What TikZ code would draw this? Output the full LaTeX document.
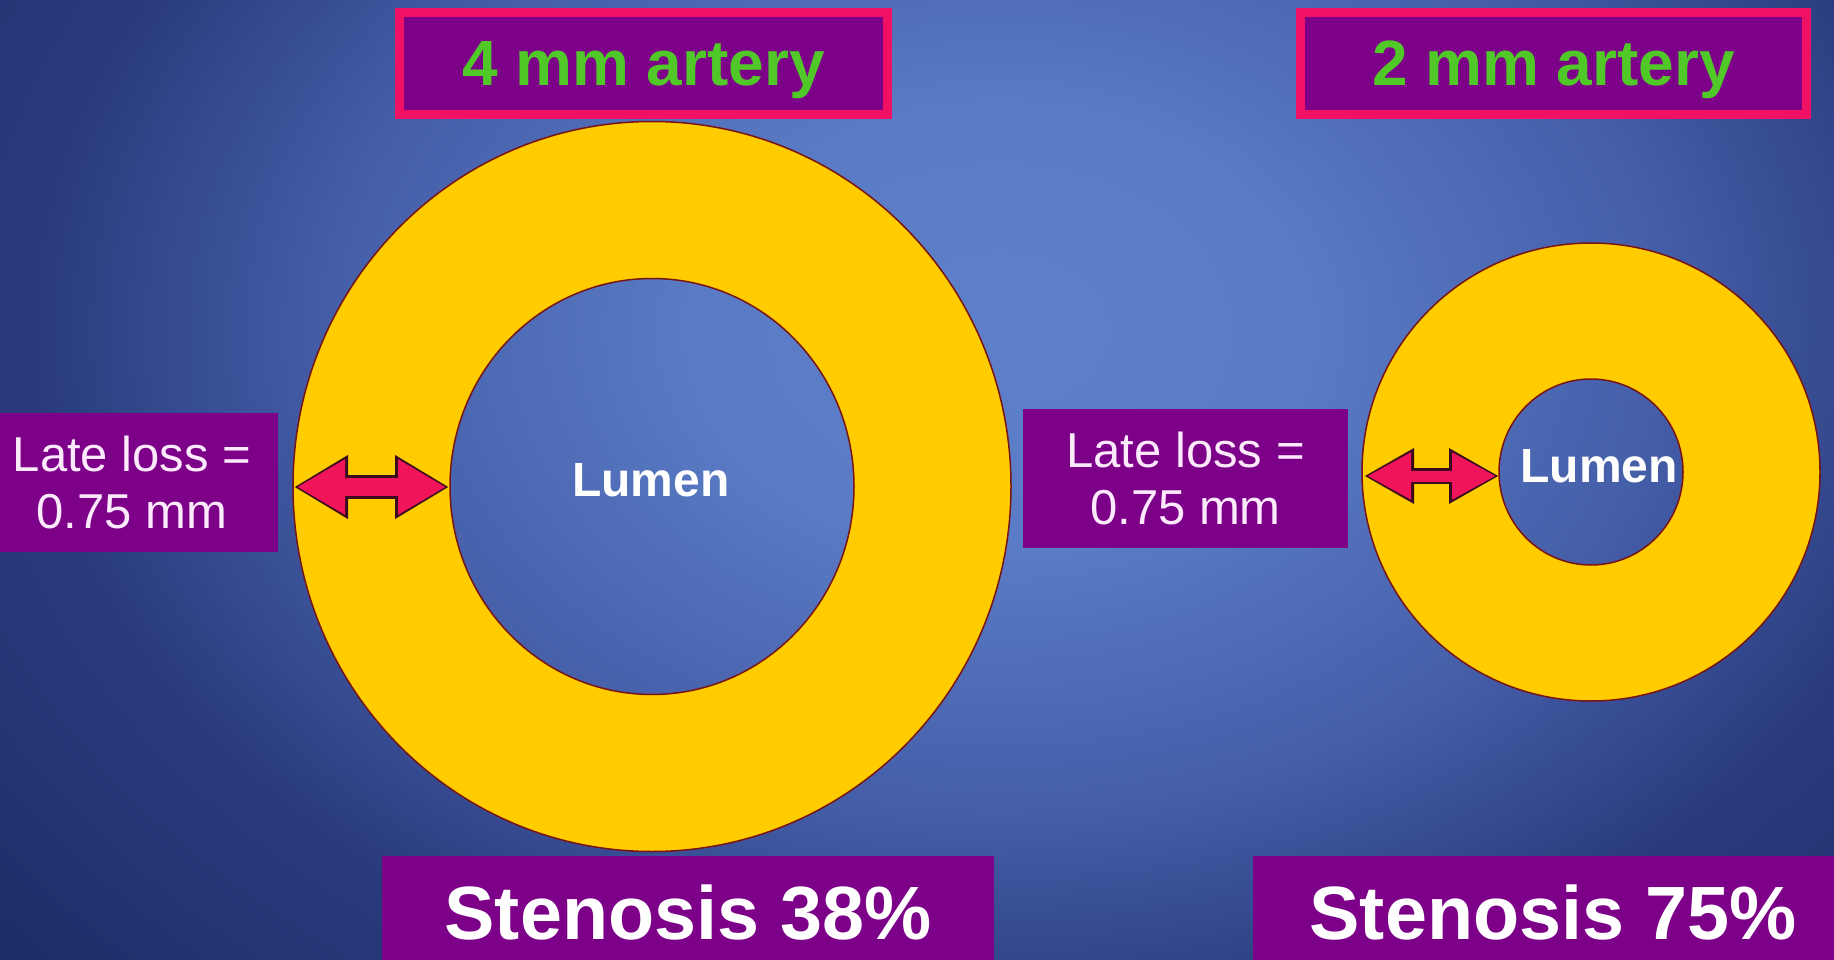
\documentclass[tikz,border=0pt]{standalone}
\usepackage{fontspec}
\setmainfont{Liberation Sans}
\usetikzlibrary{arrows.meta}
\definecolor{purp}{RGB}{125,0,137}
\definecolor{crim}{RGB}{240,16,100}
\definecolor{grn}{RGB}{80,200,40}
\definecolor{yel}{RGB}{255,204,0}
\definecolor{dred}{RGB}{120,20,20}
\definecolor{apink}{RGB}{240,20,90}
\definecolor{adark}{RGB}{60,10,30}
\definecolor{lltext}{RGB}{252,234,252}
\pgfdeclareradialshading{bgshade}{\pgfpoint{0bp}{0bp}}{rgb(0bp)=(0.37,0.50,0.79); rgb(7bp)=(0.35,0.48,0.77); rgb(15bp)=(0.27,0.37,0.66); rgb(22bp)=(0.16,0.23,0.49); rgb(30bp)=(0.11,0.18,0.40); rgb(50bp)=(0.11,0.18,0.40)}
\begin{document}
\begin{tikzpicture}[x=1pt,y=-1pt,
  titlebox/.style={draw=crim, line width=9pt, fill=purp, inner sep=0pt, text depth=0pt,
    minimum height=102pt, text=grn, font=\fontsize{64}{70}\selectfont\bfseries},
  llbox/.style={fill=purp, inner sep=0pt, minimum height=139pt, align=center,
    text=lltext, font=\fontsize{49}{57}\selectfont},
  stbox/.style={fill=purp, inner sep=0pt, minimum height=114pt, text=white,
    font=\fontsize{75.5}{80}\selectfont\bfseries},
  ring/.style={fill=yel, draw=dred, line width=1.5pt, even odd rule},
  lumen/.style={text=white, font=\fontsize{48}{52}\selectfont\bfseries, inner sep=0pt},
  arrdark/.style={draw=adark, fill=adark},
  arrpink/.style={draw=apink, fill=apink}
]
\useasboundingbox (0,0) rectangle (1834,960);
\begin{scope}
  \clip (0,0) rectangle (1834,960);
  \shade[shading=bgshade] (-100,-470) rectangle (2100,1130);
\end{scope}

% rings
\coordinate (c1) at (652,486.5);
\coordinate (c2) at (1591,472);
\filldraw[ring] (c1) ellipse[x radius=359pt, y radius=365pt]
                (c1) ellipse[x radius=202pt, y radius=208pt];
\filldraw[ring] (c2) ellipse[x radius=229pt, y radius=229pt]
                (c2) ellipse[x radius=92pt, y radius=93pt];

% title boxes
\node[titlebox, minimum width=488pt] (t1) at (643.5,63.5) {4 mm artery};
\node[titlebox, minimum width=506pt] (t2) at (1553.5,63.5) {2 mm artery};

% late loss boxes
\node[llbox, minimum width=292pt] (ll1) at (132,482.5) {Late loss =\\0.75 mm};
\node[llbox, minimum width=325pt] (ll2) at (1185.5,478.5) {Late loss =\\0.75 mm};

% stenosis boxes
\node[stbox, minimum width=612pt] (s1) at (688,913) {Stenosis 38\%};
\node[stbox, minimum width=600pt] (s2) at (1553,913) {Stenosis 75\%};

% lumen labels
\node[lumen] (lu1) at (651,480) {Lumen};
\node[lumen] (lu2) at (1599,466) {Lumen};

% arrows
\coordinate (a1s) at (294,487);
\coordinate (a1e) at (449,487);
\coordinate (a2s) at (1364,476);
\coordinate (a2e) at (1499,476);
\draw[adark, line width=24pt, {Triangle[length=54pt,width=60pt]}-{Triangle[length=54pt,width=60pt]}] (a1s) -- (a1e);
\draw[apink, line width=18pt, shorten <=3pt, shorten >=3pt, {Triangle[length=48pt,width=52pt]}-{Triangle[length=48pt,width=52pt]}] (a1s) -- (a1e);
\draw[adark, line width=16pt, {Triangle[length=50pt,width=52pt]}-{Triangle[length=50pt,width=52pt]}] (a2s) -- (a2e);
\draw[apink, line width=11pt, shorten <=3pt, shorten >=3pt, {Triangle[length=44pt,width=44pt]}-{Triangle[length=44pt,width=44pt]}] (a2s) -- (a2e);
\end{tikzpicture}
\end{document}
